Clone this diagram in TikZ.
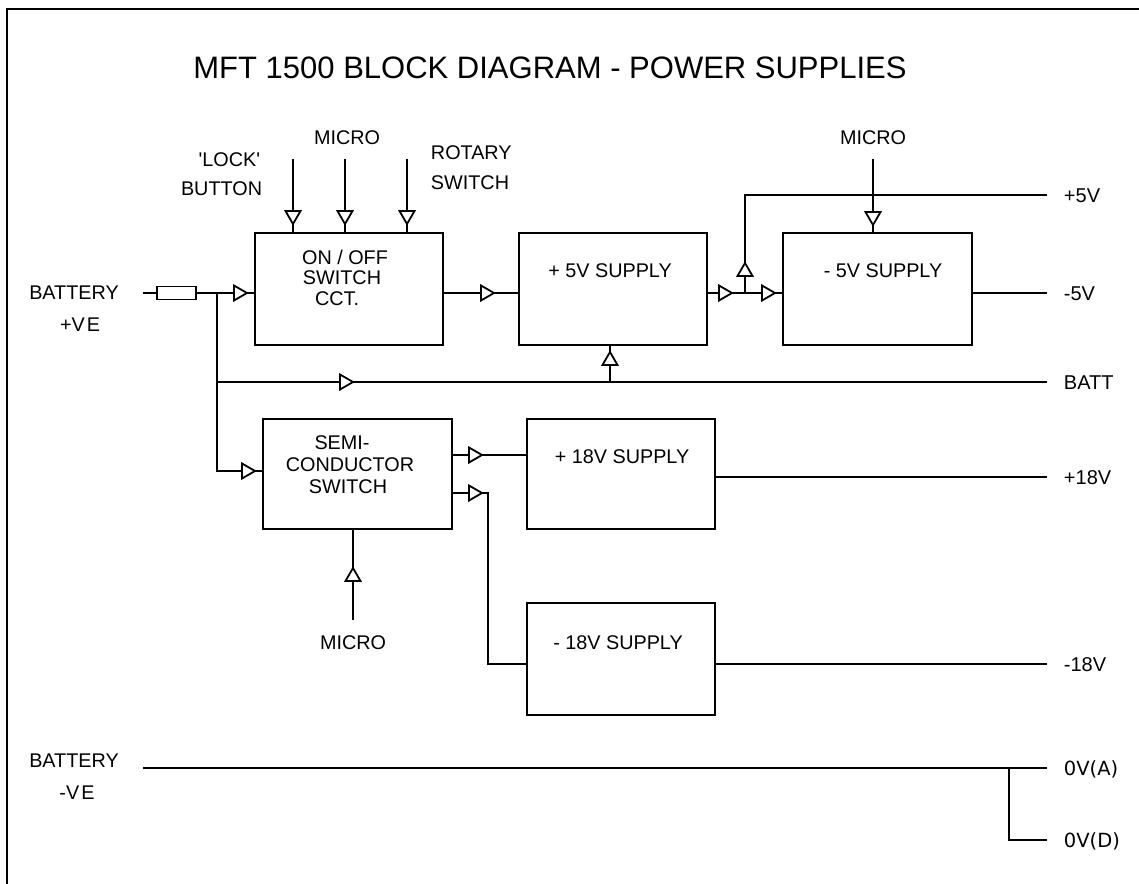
\documentclass[tikz,border=0pt]{standalone}
\usepackage{fontspec}
\setmainfont{Liberation Sans}
\newfontfamily\dvs{DejaVu Sans}
\begin{document}
\begin{tikzpicture}[x=1pt,y=-1pt, line width=1.9pt,
  box/.style={draw, minimum width=188pt, minimum height=112pt, inner sep=0pt},
  lbl/.style={font=\fontsize{19.8}{20.5}\selectfont, inner sep=0pt, anchor=base},
  rlbl/.style={font=\fontsize{20}{21}\selectfont, inner sep=0pt, anchor=base west},
  tri/.pic={\draw[fill=white, line width=1.8pt, line join=miter] (0,0) -- (-13,7.5) -- (-13,-7.5) -- cycle;}]
\useasboundingbox (0,0) rectangle (1139,883);
% frame
\draw[line width=2.2pt] (7,895) -- (7,9) -- (1150,9);

% title
\node[lbl, font=\fontsize{31}{31}\selectfont] (title) at (550,78) {MFT 1500 BLOCK DIAGRAM - POWER SUPPLIES};

% boxes
\node[box] (onoff) at (349,289) {};
\node[box] (p5) at (613,289) {};
\node[box, minimum width=189pt] (m5) at (877.5,289) {};
\node[box, minimum width=189pt, minimum height=110pt] (semi) at (357.5,474) {};
\node[box, minimum height=110pt] (p18) at (621,474) {};
\node[box] (m18) at (621,659) {};
\node[draw, minimum width=39pt, minimum height=13pt, inner sep=0pt] (fuse) at (176.5,293) {};

% box texts
\node[lbl] (onoff1) at (345,264) {ON / OFF};
\node[lbl] (onoff2) at (342,284.5) {SWITCH};
\node[lbl] (onoff3) at (337,305) {CCT.};
\node[lbl] (semi1) at (342,449) {SEMI-};
\node[lbl] (semi2) at (350,471.5) {CONDUCTOR};
\node[lbl] (semi3) at (348,493) {SWITCH};
\node[lbl] (p5t) at (610,277) {+ 5V SUPPLY};
\node[lbl] (m5t) at (883,277) {- 5V SUPPLY};
\node[lbl] (p18t) at (622,463) {+ 18V SUPPLY};
\node[lbl] (m18t) at (618,649) {- 18V SUPPLY};

% outer labels
\node[lbl, anchor=base east] (lock) at (261,166) {\textquotesingle LOCK\textquotesingle};
\node[lbl, anchor=base east] (button) at (263,195) {BUTTON};
\node[lbl] (micro1) at (347,144) {MICRO};
\node[lbl, anchor=base west] (rot1) at (430,159) {ROTARY};
\node[lbl, anchor=base west] (rot2) at (430,189) {SWITCH};
\node[lbl] (micro2) at (873,144) {MICRO};
\node[lbl] (micro3) at (353,649) {MICRO};
\node[lbl] (batp1) at (74,299) {BATTERY};
\node[lbl] (batp2) at (80,331) {+V\kern2pt E};
\node[lbl] (batn1) at (74,767) {BATTERY};
\node[lbl] (batn2) at (77,799) {-V\kern2pt E};
\node[rlbl] (o5p) at (1063,202) {+5V};
\node[rlbl] (o5m) at (1063,300) {-5V};
\node[rlbl] (obatt) at (1063,389) {BATT};
\node[rlbl] (o18p) at (1063,484) {+18V};
\node[rlbl] (o18m) at (1063,671) {-18V};
\node[rlbl, font=\dvs\fontsize{19.5}{20}\selectfont] (oa) at (1063,775) {0V(A)};
\node[rlbl, font=\dvs\fontsize{19.5}{20}\selectfont] (od) at (1063,847) {0V(D)};

% coordinates
\coordinate (bp) at (143,293);
\coordinate (j1) at (217,293);
\coordinate (j2) at (217,471);
\coordinate (jb) at (217,382);
\coordinate (jbup) at (610,382);
\coordinate (battend) at (1047,382);
\coordinate (tee) at (745,293);
\coordinate (teeup) at (745,195);
\coordinate (p5end) at (1047,195);
\coordinate (m5end) at (1047,293);
\coordinate (mic2) at (873,159);
\coordinate (lockin) at (293,159);
\coordinate (micin) at (345,159);
\coordinate (rotin) at (407,159);
\coordinate (s1) at (452,455);
\coordinate (s2) at (452,493);
\coordinate (s2c) at (488,493);
\coordinate (s2d) at (488,664);
\coordinate (p18end) at (1047,477);
\coordinate (m18end) at (1047,664);
\coordinate (mic3) at (353,620);
\coordinate (bn) at (143,768);
\coordinate (gA) at (1047,768);
\coordinate (gj) at (1009,768);
\coordinate (gD) at (1047,840);

% connectors
\draw (bp) -- (fuse.west);
\draw (fuse.east) -- (j1) -- (j1 -| onoff.west);
\draw (j1) -- (j2) -- (j2 -| semi.west);
\draw (jb) -- (battend);
\draw (jbup) -- (jbup |- p5.south);
\draw (onoff.east |- j1) -- (p5.west |- j1);
\draw (p5.east |- j1) -- (tee) -- (tee -| m5.west);
\draw (tee) -- (teeup) -- (p5end);
\draw (m5.east |- tee) -- (m5end);
\draw (mic2) -- (mic2 |- m5.north);
\draw (lockin) -- (lockin |- onoff.north);
\draw (micin) -- (micin |- onoff.north);
\draw (rotin) -- (rotin |- onoff.north);
\draw (s1) -- (s1 -| p18.west);
\draw (s2) -- (s2c) -- (s2d) -- (s2d -| m18.west);
\draw (p18end -| p18.east) -- (p18end);
\draw (m18end -| m18.east) -- (m18end);
\draw (mic3) -- (mic3 |- semi.south);
\draw (bn) -- (gA);
\draw (gj) |- (gD);

% arrowheads
\path (247,293) pic {tri};
\path (494,293) pic {tri};
\path (732,293) pic {tri};
\path (775,293) pic {tri};
\path (745,263) pic[rotate=90] {tri};
\path (873,225) pic[rotate=-90] {tri};
\path (293,224) pic[rotate=-90] {tri};
\path (345,224) pic[rotate=-90] {tri};
\path (407,224) pic[rotate=-90] {tri};
\path (353,382) pic {tri};
\path (610,352) pic[rotate=90] {tri};
\path (255,471) pic {tri};
\path (482,455) pic {tri};
\path (482,493) pic {tri};
\path (353,568) pic[rotate=90] {tri};
\end{tikzpicture}
\end{document}
